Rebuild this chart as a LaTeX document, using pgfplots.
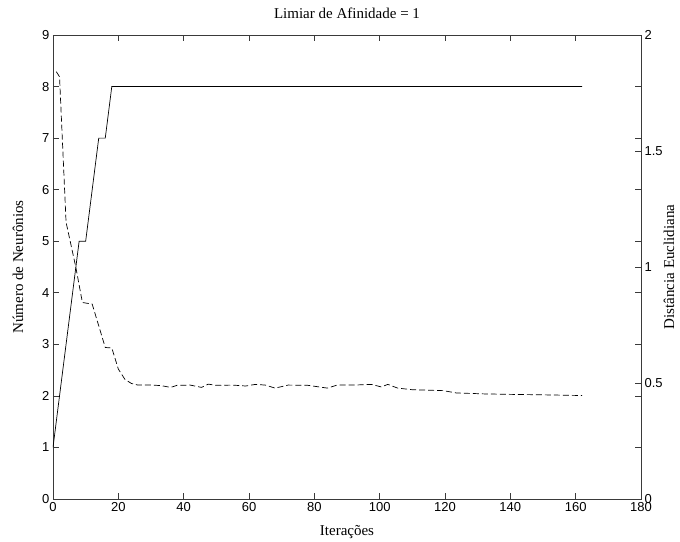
\documentclass[border=0pt]{standalone}
\usepackage{pgfplots}
\pgfplotsset{compat=1.18}
\usepackage{fontspec}
\setmainfont{Liberation Serif}
\newfontfamily\arial{Liberation Sans}
\definecolor{axgray}{HTML}{3A3A3A}
\begin{document}
\begin{tikzpicture}
\useasboundingbox (0,0) rectangle (680pt,541pt);
\begin{axis}[
  at={(53pt,42pt)}, anchor=south west, scale only axis,
  width=588pt, height=464pt,
  xmin=0, xmax=180, ymin=0, ymax=9,
  xtick={0,20,...,180}, ytick={0,1,...,9},
  tick align=inside, major tick length=6pt,
  axis line style={axgray, line width=0.7pt},
  every tick/.style={axgray, line width=0.7pt},
  /pgf/number format/assume math mode=true,
  ticklabel style={font=\arial\fontsize{13}{15}\selectfont},
  title={Limiar de Afinidade = 1},
  title style={at={(axis description cs:0.5,1)}, anchor=center, yshift=16pt, font=\fontsize{15}{17}\selectfont},
  xlabel={Iterações},
  xlabel style={at={(axis description cs:0.5,0)}, anchor=center, yshift=-33pt, font=\fontsize{15}{17}\selectfont},
  ylabel={Número de Neurônios},
  ylabel style={at={(axis description cs:0,0.5)}, anchor=center, yshift=35pt, font=\fontsize{15}{17}\selectfont},
]
\addplot[black, line width=0.7pt] coordinates {
(0,1) (2,2) (8,5) (10,5) (14,7) (16,7) (18,8) (162,8)
};
\end{axis}
\begin{axis}[
  at={(53pt,42pt)}, anchor=south west, scale only axis,
  width=588pt, height=464pt,
  xmin=0, xmax=180, ymin=0, ymax=2,
  axis x line=none, axis y line*=right,
  ytick={0,0.5,1,1.5,2},
  tick align=inside, major tick length=6pt,
  axis line style={axgray, line width=0.7pt},
  every tick/.style={axgray, line width=0.7pt},
  /pgf/number format/assume math mode=true,
  ticklabel style={font=\arial\fontsize{13}{15}\selectfont},
  ylabel={Distância Euclidiana},
  ylabel style={at={(axis description cs:1,0.5)}, anchor=center, yshift=-28pt, font=\fontsize{15}{17}\selectfont},
]
\addplot[black, line width=0.7pt, dash pattern=on 6pt off 3pt] coordinates {
(1,1.842) (2,1.82) (4,1.193) (7,0.998) (9,0.847) (12,0.84) (16,0.653) (18,0.651)
(20,0.56) (22,0.516) (24,0.498) (26,0.491) (30,0.491) (33,0.489) (36,0.481) (38,0.49)
(42,0.491) (45.5,0.481) (47.5,0.495) (50,0.49) (55,0.491) (59,0.487) (62,0.494) (65,0.491)
(68,0.478) (72,0.491) (78,0.49) (84,0.478) (87,0.491) (92,0.491) (97.5,0.494) (100.5,0.483)
(102.5,0.494) (105.5,0.478) (110,0.471) (115,0.469) (119.5,0.467) (123.5,0.457) (128,0.455)
(132,0.453) (140,0.451) (150,0.449) (162,0.446)
};
\end{axis}
\end{tikzpicture}
\end{document}
